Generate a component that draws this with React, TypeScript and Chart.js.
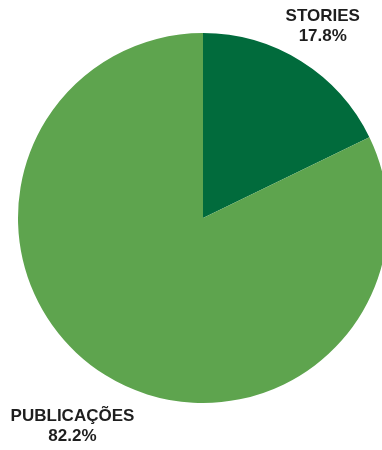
import React, { useEffect, useRef } from "react";
import { Chart, registerables } from "chart.js";

Chart.register(...registerables);

const categories = ["STORIES", "PUBLICAÇÕES"];
const values = [17.8, 82.2];
const percentLabels = ["17.8%", "82.2%"];
const colors = ["#016B3C", "#5EA44E"];

const labelDistance = [1.22, 1.33];

const outerLabels = {
  id: "outerLabels",
  afterDatasetsDraw(chart: any) {
    const ctx = chart.ctx;
    const meta = chart.getDatasetMeta(0);
    ctx.save();
    ctx.fillStyle = "#1e1e1e";
    ctx.font = "bold 17px 'Liberation Sans', Arial, sans-serif";
    ctx.textAlign = "center";
    ctx.textBaseline = "middle";
    meta.data.forEach((arc: any, i: number) => {
      const mid = (arc.startAngle + arc.endAngle) / 2;
      const r = arc.outerRadius * labelDistance[i];
      const x = arc.x + Math.cos(mid) * r;
      const y = arc.y + Math.sin(mid) * r;
      ctx.fillText(chart.data.labels[i], x, y - 10);
      ctx.fillText(percentLabels[i], x, y + 10);
    });
    ctx.restore();
  },
};

export default function App() {
  const ref = useRef<HTMLCanvasElement>(null);
  useEffect(() => {
    if (!ref.current) return;
    const chart = new Chart(ref.current, {
      type: "pie",
      data: {
        labels: categories,
        datasets: [
          {
            data: values,
            backgroundColor: colors,
            borderWidth: 0,
          },
        ],
      },
      options: {
        responsive: false,
        animation: false,
        layout: { padding: { left: 18, right: 18, top: 32, bottom: 46 } },
        plugins: {
          legend: { display: false },
          tooltip: { enabled: false },
        },
      },
      plugins: [outerLabels],
    });
    return () => chart.destroy();
  }, []);
  return (
    <div
      style={{
        position: "fixed",
        left: 0,
        top: 0,
        width: 382,
        height: 450,
        overflow: "hidden",
        background: "#fff",
      }}
    >
      <canvas ref={ref} width={406} height={450} style={{ display: "block" }} />
    </div>
  );
}
